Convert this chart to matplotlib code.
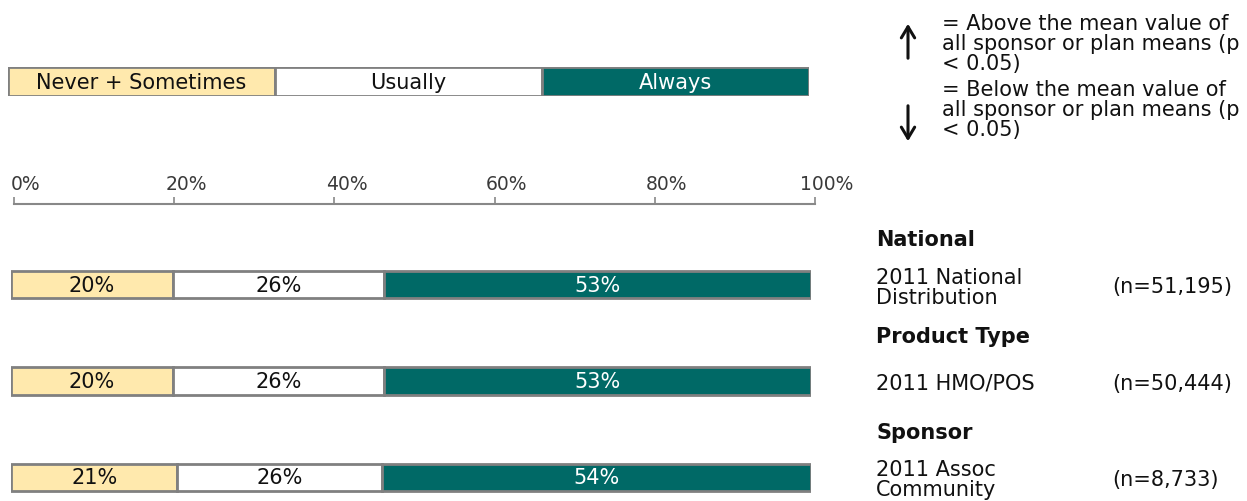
import numpy as np
import matplotlib.pyplot as plt
import matplotlib.transforms as mtransforms
from matplotlib.patches import FancyArrowPatch

# response categories and colours
categories = ["Never + Sometimes", "Usually", "Always"]
seg_colors = ["#FFE9AD", "#FFFFFF", "#006966"]
text_colors = ["#111111", "#111111", "#FFFFFF"]

# percent of respondents per group
groups = ["2011 National\nDistribution", "2011 HMO/POS", "2011 Assoc\nCommunity"]
sections = ["National", "Product Type", "Sponsor"]
sample_n = ["(n=51,195)", "(n=50,444)", "(n=8,733)"]
never_sometimes = [20.2, 20.2, 20.8]
usually = [26.4, 26.4, 25.6]
always = [53.4, 53.4, 53.6]

ticks = [0, 20, 40, 60, 80, 100]
tick_labels = ["0%", "20%", "40%", "60%", "80%", "100%"]

plt.rcParams['font.family'] = ['DejaVu Sans']
W, H = 1247, 502
fig = plt.figure(figsize=(W / 100, H / 100), dpi=100)

FS = 15


def box(x0, y0, x1, y1):
    # pixel box (top-left origin) -> figure fraction rect
    return [x0 / W, 1 - y1 / H, (x1 - x0) / W, (y1 - y0) / H]


def fxy(x, y):
    return x / W, 1 - y / H


edge = "#808080"

# legend strip
lax = fig.add_axes(box(8, 68, 809, 97))
lax.barh(0, [1, 1, 1], left=[0, 1, 2], height=1, color=seg_colors,
         edgecolor=edge, linewidth=2)
for i, c in enumerate(categories):
    lax.text(i + 0.5, 0, c, ha="center", va="center", fontsize=FS,
             color=text_colors[i])
lax.set_xlim(0, 3)
lax.set_ylim(-0.5, 0.5)
lax.axis("off")

# percent scale
sax = fig.add_axes(box(14, 205, 815, 215))
sax.set_xlim(0, 100)
sax.set_ylim(0, 1)
for s in ["left", "right", "bottom"]:
    sax.spines[s].set_visible(False)
sax.spines["top"].set_color("#888888")
sax.spines["top"].set_linewidth(1.5)
sax.xaxis.tick_top()
sax.set_xticks(ticks)
sax.set_xticklabels(tick_labels, fontsize=13.5, color="#3a3a3a")
sax.tick_params(axis="x", direction="out", length=5, width=1.2,
                color="#888888", pad=3)
shift = mtransforms.ScaledTranslation(12 / 100, 0, fig.dpi_scale_trans)
for lbl in sax.get_xticklabels():
    lbl.set_transform(lbl.get_transform() + shift)
sax.set_yticks([])
sax.patch.set_visible(False)

# stacked bars
row_gap = 96.5
top = 285.5 - 0.5 * row_gap
bottom = top + 2.76 * row_gap
bax = fig.add_axes(box(11, top, 811, bottom))
y = np.arange(len(groups))
lefts = np.zeros(len(groups))
for vals, col, tcol in zip([never_sometimes, usually, always], seg_colors, text_colors):
    vals = np.array(vals)
    bax.barh(y, vals, left=lefts, height=0.28, color=col, edgecolor=edge,
             linewidth=2)
    for yi, l, v in zip(y, lefts, vals):
        bax.text(l + v / 2, yi, f"{int(round(v))}%", ha="center", va="center",
                 fontsize=FS, color=tcol)
    lefts = lefts + vals
bax.set_xlim(0, 100)
bax.set_ylim(2.26, -0.5)
bax.axis("off")

# group labels on the right
for i, (sec, g, n) in enumerate(zip(sections, groups, sample_n)):
    yc = 285.5 + i * row_gap
    fig.text(*fxy(876, yc - 45), sec, fontsize=FS, fontweight="bold",
             ha="left", va="center", color="#111111")
    fig.text(*fxy(876, yc + 2), g, fontsize=FS, ha="left", va="center",
             color="#111111", linespacing=1.0)
    fig.text(*fxy(1112, yc + 2), n, fontsize=FS, ha="left", va="center",
             color="#111111")

# significance key
key_up = "= Above the mean value of\nall sponsor or plan means (p\n< 0.05)"
key_down = "= Below the mean value of\nall sponsor or plan means (p\n< 0.05)"
fig.text(*fxy(942, 44), key_up, fontsize=FS, ha="left", va="center",
         color="#111111", linespacing=1.0)
fig.text(*fxy(942, 110), key_down, fontsize=FS, ha="left", va="center",
         color="#111111", linespacing=1.0)
for y0, y1 in [(62, 22), (104, 145)]:
    fig.add_artist(FancyArrowPatch(fxy(908, y0), fxy(908, y1),
                                   transform=fig.transFigure,
                                   arrowstyle="->,head_length=5,head_width=3",
                                   mutation_scale=1.6, linewidth=2.2,
                                   color="#111111"))

fig.savefig("out.png", dpi=100)
